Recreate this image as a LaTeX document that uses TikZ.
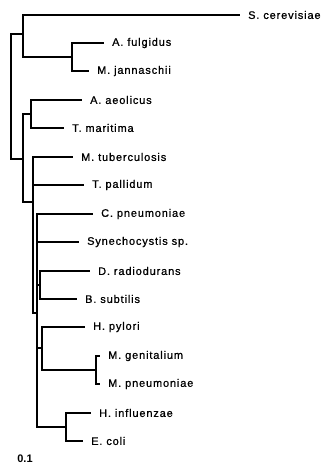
\documentclass[tikz,border=0pt]{standalone}
\usepackage{fontspec}
\setmainfont{Liberation Sans}
\newfontfamily\treefont[LetterSpace=8, FakeBold=0.8]{Liberation Sans}
\usetikzlibrary{positioning}

\begin{document}
\begin{tikzpicture}[x=1bp, y=-1bp,
    every node/.style={font=\treefont\fontsize{11}{13}\selectfont, inner sep=0pt},
    branch/.style={line width=1.3pt, line cap=rect}]
  \useasboundingbox (0,0) rectangle (326,472);
  % leaves: name/row/end of branch/label
  \foreach \n/\y/\e/\lab in {sce/15/239/S. cerevisiae, afu/43/103/A. fulgidus,
                             mja/71/88/M. jannaschii, aae/100/81/A. aeolicus,
                             tma/128/63/T. maritima, mtu/157/72/M. tuberculosis,
                             tpa/185/83/T. pallidum, cpn/214/92/C. pneumoniae,
                             syn/242/78/Synechocystis sp., dra/271/89/D. radiodurans,
                             bsu/299/76/B. subtilis, hpy/327/84/H. pylori,
                             mge/356/99/M. genitalium, mpn/384/99/M. pneumoniae,
                             hin/413/90/H. influenzae, eco/441/82/E. coli}{
    \coordinate (\n-end) at (\e,\y);
    \node[right=9bp of \n-end] (\n) {\lab};
  }
  % inner nodes
  \coordinate (root) at (11,96);
  \coordinate (nA) at (23,34);
  \coordinate (nB) at (72,57);
  \coordinate (nC) at (23,159);
  \coordinate (nD) at (31,114);
  \coordinate (nE) at (33,202);
  \coordinate (nF) at (37,313);
  \coordinate (nG) at (40,285);
  \coordinate (nH) at (42,348);
  \coordinate (nI) at (96,370);
  \coordinate (nJ) at (66,427);
  % branches
  \foreach \a/\b in {root/nA, root/nC, nA/sce-end, nA/nB, nB/afu-end, nB/mja-end,
                     nC/nD, nC/nE, nD/aae-end, nD/tma-end,
                     nE/mtu-end, nE/tpa-end, nE/nF,
                     nF/cpn-end, nF/syn-end, nF/nG, nF/nH, nF/nJ,
                     nG/dra-end, nG/bsu-end, nH/hpy-end, nH/nI,
                     nI/mge-end, nI/mpn-end, nJ/hin-end, nJ/eco-end}
    \draw[branch] (\a) |- (\b);
  % scale
  \node[font=\fontsize{11}{13}\selectfont\bfseries] (scale) at (25,459) {0.1};
\end{tikzpicture}
\end{document}
